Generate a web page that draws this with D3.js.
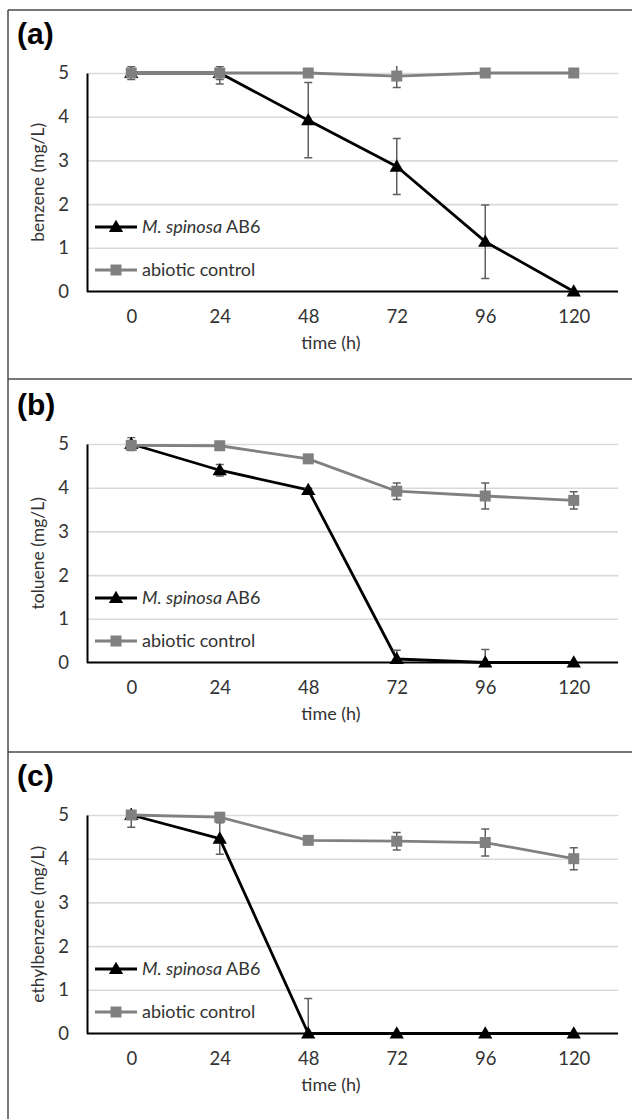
<!DOCTYPE html>
<html>
<head>
<meta charset="utf-8">
<script src="https://cdn.jsdelivr.net/npm/d3@7"></script>
<style>
  body { margin: 0; background: #fff; }
  svg { display: block; font-family: Lato, "Open Sans", sans-serif; }
</style>
</head>
<body>
<script>
var times = ["0", "24", "48", "72", "96", "120"];
var yTicks = [0, 1, 2, 3, 4, 5];
var seriesNames = ["M. spinosa AB6", "abiotic control"];

var panelLabels = ["(a)", "(b)", "(c)"];
var yTitles = ["benzene (mg/L)", "toluene (mg/L)", "ethylbenzene (mg/L)"];

// benzene
var benzeneAB6 = [5, 5, 3.92, 2.86, 1.14, 0];
var benzeneAB6Err = [0.05, 0.25, 0.86, 0.64, 0.84, 0];
var benzeneCtrl = [5, 5, 5, 4.93, 5, 5];
var benzeneCtrlErr = [0.15, 0.15, 0.04, 0.26, 0.03, 0.06];
// toluene
var tolueneAB6 = [5, 4.4, 3.95, 0.08, 0, 0];
var tolueneAB6Err = [0.15, 0.13, 0.04, 0.2, 0.3, 0];
var tolueneCtrl = [4.97, 4.96, 4.66, 3.92, 3.81, 3.71];
var tolueneCtrlErr = [0.1, 0.05, 0.05, 0.19, 0.3, 0.2];
// ethylbenzene
var ethylAB6 = [5, 4.46, 0, 0, 0, 0];
var ethylAB6Err = [0.28, 0.36, 0.8, 0, 0, 0];
var ethylCtrl = [5, 4.95, 4.42, 4.4, 4.37, 4.0];
var ethylCtrlErr = [0.1, 0.05, 0.03, 0.2, 0.31, 0.25];

var panels = [
	{ ab6: benzeneAB6, ab6Err: benzeneAB6Err, ctrl: benzeneCtrl, ctrlErr: benzeneCtrlErr },
	{ ab6: tolueneAB6, ab6Err: tolueneAB6Err, ctrl: tolueneCtrl, ctrlErr: tolueneCtrlErr },
	{ ab6: ethylAB6, ab6Err: ethylAB6Err, ctrl: ethylCtrl, ctrlErr: ethylCtrlErr }
];

var W = 632, H = 1119;
var panelStep = 371;
var plotLeft = 87, plotRight = 618, plotTop = 73, plotBottom = 291.5;
var Black = "#000", Gray = "#808080", ErrCol = "#5f5f5f", TextCol = "#333";

var svg = d3.select("body").append("svg")
	.attr("width", W)
	.attr("height", H);

var x = d3.scalePoint().domain(times).range([plotLeft, plotRight]).padding(0.5);
var y = d3.scaleLinear().domain([0, 5]).range([plotBottom, plotTop]);

// frame lines around the three panels
var frame = svg.append("g").attr("stroke", "#4a4a4a").attr("stroke-width", 1.5);
frame.append("line").attr("x1", 8).attr("x2", W).attr("y1", 10).attr("y2", 10);
frame.append("line").attr("x1", 8).attr("x2", W).attr("y1", 379).attr("y2", 379);
frame.append("line").attr("x1", 8).attr("x2", W).attr("y1", 752).attr("y2", 752);
frame.append("line").attr("x1", 8).attr("x2", 8).attr("y1", 10).attr("y2", H);

svg.append("defs").append("clipPath").attr("id", "plotclip")
	.append("rect")
	.attr("x", plotLeft).attr("width", plotRight - plotLeft)
	.attr("y", y(5.16)).attr("height", plotBottom - y(5.16));

var tri = d3.symbol().type(d3.symbolTriangle).size(88);
var sq = d3.symbol().type(d3.symbolSquare).size(121);

panels.forEach(function(p, k) {
	var g = svg.append("g").attr("transform", "translate(0," + (k * panelStep) + ")");

	g.append("text")
		.attr("x", 17).attr("y", 44)
		.attr("font-family", "Liberation Sans, Arial, sans-serif")
		.attr("font-weight", "bold")
		.attr("font-size", 30)
		.attr("fill", "#000")
		.text(panelLabels[k]);

	// gridlines
	g.append("g")
		.attr("transform", "translate(" + plotLeft + ",0)")
		.call(d3.axisLeft(y).tickValues(yTicks.slice(1)).tickSize(-(plotRight - plotLeft)).tickFormat(""))
		.call(s => s.select(".domain").remove())
		.call(s => s.selectAll("line").attr("stroke", "#d9d9d9").attr("stroke-width", 1.6));

	// y axis
	g.append("g")
		.attr("transform", "translate(" + plotLeft + ",0)")
		.call(d3.axisLeft(y).tickValues(yTicks).tickSize(0).tickPadding(18).tickFormat(d3.format("d")))
		.call(s => s.select(".domain").attr("stroke", "#000").attr("stroke-width", 2))
		.call(s => s.selectAll("text").attr("font-family", "Lato, sans-serif").attr("font-size", 18.5).attr("fill", TextCol));

	// x axis
	g.append("g")
		.attr("transform", "translate(0," + plotBottom + ")")
		.call(d3.axisBottom(x).tickSize(0).tickPadding(18))
		.call(s => s.select(".domain").attr("stroke", "#000").attr("stroke-width", 2.2).attr("d", "M" + plotLeft + ",0H" + plotRight))
		.call(s => s.selectAll("text").attr("font-family", "Lato, sans-serif").attr("font-size", 18.5).attr("fill", TextCol));

	g.append("text")
		.attr("x", 331).attr("y", 349)
		.attr("text-anchor", "middle")
		.attr("font-size", 18)
		.attr("fill", TextCol)
		.text("time (h)");

	g.append("text")
		.attr("transform", "translate(38," + ((plotTop + plotBottom) / 2) + ") rotate(-90)")
		.attr("text-anchor", "middle")
		.attr("dy", "0.35em")
		.attr("font-size", 17.5)
		.attr("fill", TextCol)
		.text(yTitles[k]);

	var series = [
		{ vals: p.ab6, err: p.ab6Err, color: Black, mark: tri },
		{ vals: p.ctrl, err: p.ctrlErr, color: Gray, mark: sq }
	];

	var plot = g.append("g");
	series.forEach(function(s) {
		var pts = s.vals.map((v, i) => ({ t: times[i], v: v, e: s.err[i] }));
		var line = d3.line().x(d => x(d.t)).y(d => y(d.v));

		plot.append("path")
			.datum(pts)
			.attr("d", line)
			.attr("fill", "none")
			.attr("stroke", s.color)
			.attr("stroke-width", 2.8)
			.attr("stroke-linejoin", "round");

		var eb = plot.append("g").attr("clip-path", "url(#plotclip)")
			.selectAll("g").data(pts.filter(d => d.e > 0)).enter().append("g")
			.attr("stroke", ErrCol).attr("stroke-width", 1.5);
		eb.append("line")
			.attr("x1", d => x(d.t)).attr("x2", d => x(d.t))
			.attr("y1", d => y(d.v + d.e)).attr("y2", d => y(d.v - d.e));
		eb.append("line")
			.attr("x1", d => x(d.t) - 4).attr("x2", d => x(d.t) + 4)
			.attr("y1", d => y(d.v + d.e)).attr("y2", d => y(d.v + d.e));
		eb.append("line")
			.attr("x1", d => x(d.t) - 4).attr("x2", d => x(d.t) + 4)
			.attr("y1", d => y(d.v - d.e)).attr("y2", d => y(d.v - d.e));

		plot.selectAll(null).data(pts).enter().append("path")
			.attr("d", s.mark)
			.attr("transform", d => "translate(" + x(d.t) + "," + (y(d.v) + (s.mark === tri ? 1 : 0)) + ")")
			.attr("fill", s.color);
	});

	// legend
	var lg = g.append("g");
	var rows = [
		{ name: seriesNames[0], color: Black, mark: tri, y: 227 },
		{ name: seriesNames[1], color: Gray, mark: sq, y: 270 }
	];
	rows.forEach(function(r, i) {
		lg.append("line")
			.attr("x1", 95).attr("x2", 137).attr("y1", r.y).attr("y2", r.y)
			.attr("stroke", r.color).attr("stroke-width", 2.8);
		lg.append("path")
			.attr("d", r.mark)
			.attr("transform", "translate(116," + (r.y + (i === 0 ? 1 : 0)) + ")")
			.attr("fill", r.color);
		var t = lg.append("text")
			.attr("x", 142).attr("y", r.y).attr("dy", "0.35em")
			.attr("font-size", 18)
			.attr("fill", TextCol);
		if (i === 0) {
			t.append("tspan").attr("font-style", "italic").text("M. spinosa");
			t.append("tspan").text(" AB6");
		} else {
			t.text(r.name);
		}
	});
});
</script>
</body>
</html>
